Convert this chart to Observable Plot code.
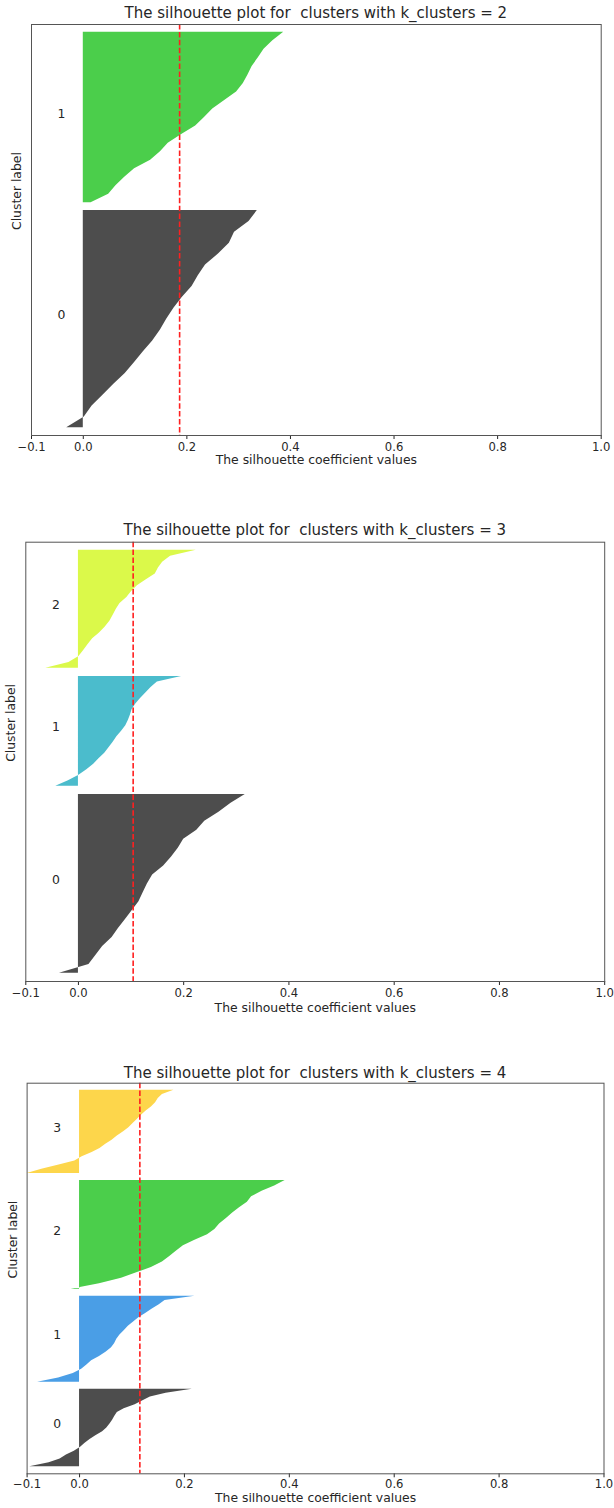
<!DOCTYPE html>
<html>
<head>
<meta charset="utf-8">
<script src="https://cdn.jsdelivr.net/npm/d3@7"></script>
<script src="https://cdn.jsdelivr.net/npm/@observablehq/plot@0.6"></script>
<style>
  body { margin: 0; background: #fff; }
  #wrap { position: relative; width: 614px; height: 1508px; overflow: hidden; background: #fff; }
  .panel { position: absolute; left: 0; }
  .title { position: absolute; font-family: "DejaVu Sans", sans-serif; font-size: 15px; color: #262626;
           text-align: center; white-space: pre; line-height: 18px; height: 18px; }
</style>
</head>
<body>
<div id="wrap"></div>
<script>
// ---------------- data ----------------
const xTicks = [-0.1, 0.0, 0.2, 0.4, 0.6, 0.8, 1.0];
const xLabel = "The silhouette coefficient values";
const yLabel = "Cluster label";

// k_clusters = 2
const k2Title = "The silhouette plot for  clusters with k_clusters = 2";
const k2Sizes = [280, 220];
const k2Avg = 0.186;
const k2Cluster0 = [-0.032, 0.002, 0.017, 0.038, 0.059, 0.081, 0.099, 0.116, 0.134, 0.149, 0.161, 0.175, 0.191, 0.210, 0.222, 0.236, 0.261, 0.282, 0.292, 0.320, 0.336];
const k2Cluster1 = [0.015, 0.049, 0.063, 0.080, 0.099, 0.130, 0.149, 0.164, 0.190, 0.217, 0.234, 0.250, 0.273, 0.296, 0.309, 0.318, 0.326, 0.338, 0.349, 0.366, 0.387];

// k_clusters = 3
const k3Title = "The silhouette plot for  clusters with k_clusters = 3";
const k3Sizes = [220, 135, 145];
const k3Avg = 0.104;
const k3Cluster0 = [-0.036, 0.020, 0.033, 0.046, 0.064, 0.076, 0.089, 0.102, 0.115, 0.123, 0.131, 0.141, 0.162, 0.177, 0.190, 0.200, 0.225, 0.240, 0.267, 0.290, 0.317];
const k3Cluster1 = [-0.043, -0.019, 0.001, 0.016, 0.029, 0.039, 0.050, 0.058, 0.066, 0.073, 0.082, 0.090, 0.095, 0.099, 0.102, 0.109, 0.118, 0.128, 0.138, 0.150, 0.196];
const k3Cluster2 = [-0.062, -0.018, 0.001, 0.010, 0.018, 0.027, 0.040, 0.051, 0.060, 0.066, 0.072, 0.079, 0.092, 0.101, 0.112, 0.129, 0.146, 0.152, 0.160, 0.175, 0.224];

// k_clusters = 4
const k4Title = "The silhouette plot for  clusters with k_clusters = 4";
const k4Sizes = [109, 121, 153, 117];
const k4Avg = 0.115;
const k4Cluster0 = [-0.095, -0.058, -0.037, -0.025, -0.010, 0.002, 0.010, 0.020, 0.031, 0.044, 0.052, 0.058, 0.063, 0.067, 0.072, 0.085, 0.106, 0.120, 0.135, 0.165, 0.215];
const k4Cluster1 = [-0.080, -0.040, -0.012, 0.004, 0.014, 0.023, 0.038, 0.051, 0.061, 0.067, 0.071, 0.077, 0.085, 0.093, 0.103, 0.113, 0.126, 0.138, 0.152, 0.163, 0.220];
const k4Cluster2 = [-0.016, 0.038, 0.080, 0.109, 0.137, 0.158, 0.172, 0.185, 0.198, 0.220, 0.244, 0.258, 0.267, 0.280, 0.292, 0.305, 0.320, 0.328, 0.348, 0.372, 0.392];
const k4Cluster3 = [-0.100, -0.072, -0.039, -0.009, 0.005, 0.024, 0.039, 0.050, 0.062, 0.072, 0.084, 0.094, 0.102, 0.110, 0.118, 0.127, 0.137, 0.145, 0.150, 0.158, 0.180];

// ---------------- styles ----------------
const DARK = "#4d4d4d", GREEN = "#4bce4b", LIME = "#dbf94a", CYAN = "#4bbccc", YELLOW = "#fdd64b", BLUE = "#4a9ee6";
const TEXT = "#262626", SPINE = "#555555", RED = "#ff2020";

const panels = [
  {title: k2Title, sizes: k2Sizes, avg: k2Avg, clusters: [k2Cluster0, k2Cluster1], colors: [DARK, GREEN],
   top: 0, height: 480, mt: 24, mb: 45, ml: 31, mr: 13.3, titleY: 13.3, xlabDy: 28, ylabX: 17, tickPad: 3},
  {title: k3Title, sizes: k3Sizes, avg: k3Avg, clusters: [k3Cluster0, k3Cluster1, k3Cluster2], colors: [DARK, CYAN, LIME],
   top: 500, height: 521, mt: 41.7, mb: 40, ml: 25.3, mr: 9.8, titleY: 530, xlabDy: 30, ylabX: 11, tickPad: 3},
  {title: k4Title, sizes: k4Sizes, avg: k4Avg, clusters: [k4Cluster0, k4Cluster1, k4Cluster2, k4Cluster3], colors: [DARK, BLUE, GREEN, YELLOW],
   top: 1040, height: 467.3, mt: 42.7, mb: 34, ml: 26.6, mr: 10.5, titleY: 1072.7, xlabDy: 28.5, ylabX: 12.5, tickPad: 1.5}
];

const fmt = d => (d < 0 ? "\u2212" : "") + Math.abs(d).toFixed(1);
const wrap = document.getElementById("wrap");

for (const p of panels) {
  const k = p.sizes.length;
  const total = d3.sum(p.sizes);
  const yMax = total + (k + 1) * 10;
  const rows = [];
  const labels = [];
  let yLower = 10;
  p.sizes.forEach((size, i) => {
    const vals = p.clusters[i];
    vals.forEach((v, j) => rows.push({cluster: i, y: yLower + size * j / (vals.length - 1), v}));
    labels.push({y: yLower + size / 2, text: String(i)});
    yLower += size + 10;
  });

  const chart = Plot.plot({
    width: 614,
    height: p.height,
    marginTop: p.mt,
    marginBottom: p.mb,
    marginLeft: p.ml,
    marginRight: p.mr,
    style: {fontFamily: "'DejaVu Sans', sans-serif", fontSize: "11.6px", color: TEXT, background: "white", overflow: "visible"},
    x: {domain: [-0.1, 1.0], ticks: xTicks, tickFormat: fmt, tickSize: 4, tickPadding: p.tickPad, label: null},
    y: {domain: [0, yMax], axis: null},
    marks: [
      ...p.sizes.map((s, i) => Plot.areaX(rows.filter(r => r.cluster === i), {y: "y", x1: 0, x2: "v", fill: p.colors[i]})),
      Plot.text(labels, {x: -0.05, y: "y", text: "text", textAnchor: "start", lineAnchor: "bottom", fontSize: 12.4, fill: TEXT}),
      Plot.ruleX([p.avg], {stroke: RED, strokeWidth: 1.6, strokeDasharray: "5.5,2.4"}),
      Plot.frame({stroke: SPINE, strokeWidth: 1}),
      Plot.text([xLabel], {frameAnchor: "bottom", dy: p.xlabDy, fontSize: 12.4, fill: TEXT}),
      Plot.text([yLabel], {frameAnchor: "left", rotate: -90, dx: -(p.ml - p.ylabX), fontSize: 12.4, fill: TEXT})
    ]
  });
  const holder = document.createElement("div");
  holder.className = "panel";
  holder.style.top = p.top + "px";
  holder.appendChild(chart);
  wrap.appendChild(holder);

  const t = document.createElement("div");
  t.className = "title";
  const cx = (p.ml + (614 - p.mr)) / 2;
  t.style.left = (cx - 250) + "px";
  t.style.width = "500px";
  t.style.top = (p.titleY - 9) + "px";
  t.textContent = p.title;
  wrap.appendChild(t);
}
</script>
</body>
</html>
